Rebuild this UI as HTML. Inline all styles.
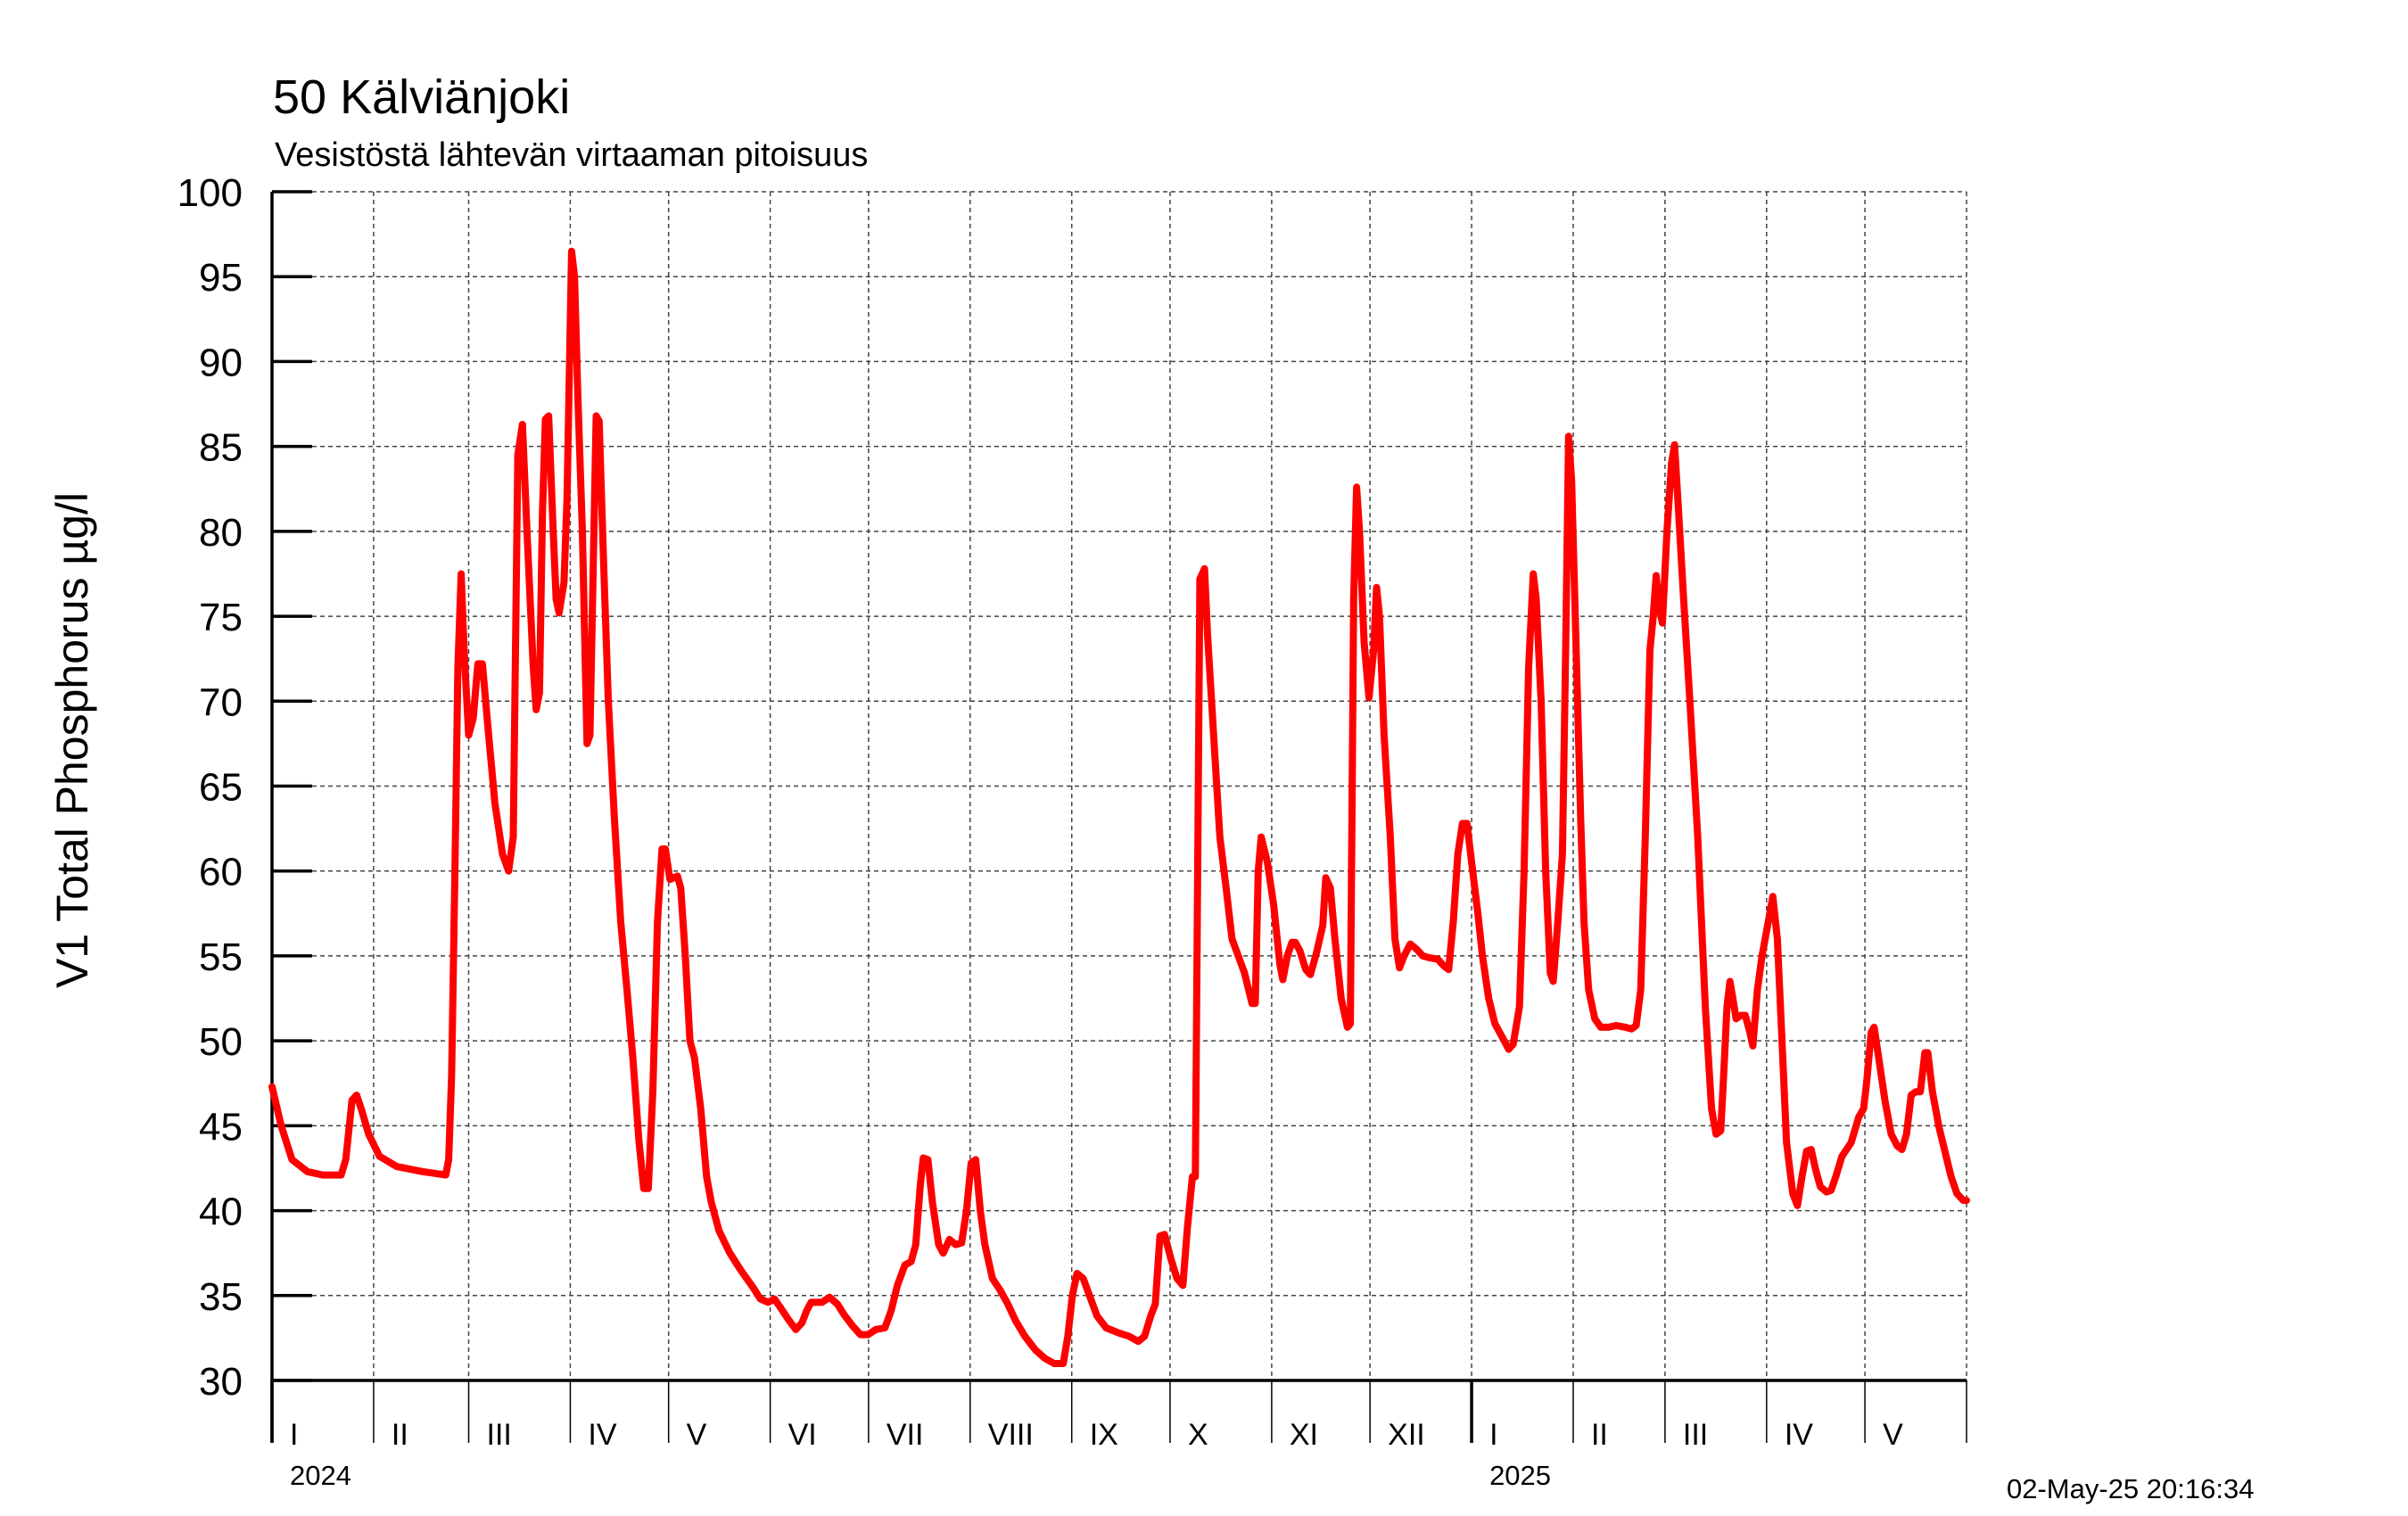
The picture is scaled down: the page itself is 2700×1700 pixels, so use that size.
<!DOCTYPE html>
<html><head><meta charset="utf-8">
<style>
html,body{margin:0;padding:0;background:#fff;}
svg{display:block;font-family:"Liberation Sans",sans-serif;}
</style></head>
<body>
<svg id="chart" width="2700" height="1700" viewBox="0 0 2700 1700" xmlns="http://www.w3.org/2000/svg">
<rect x="0" y="0" width="2700" height="1700" fill="#fff"/>
<text x="306" y="127" font-size="54" fill="#000">50 Kälviänjoki</text>
<text x="308" y="186" font-size="38" fill="#000">Vesistöstä lähtevän virtaaman pitoisuus</text>
<text transform="translate(98,830) rotate(-90)" text-anchor="middle" font-size="50" fill="#000">V1 Total Phosphorus µg/l</text>
<text x="2250" y="1680" font-size="31" fill="#000">02-May-25 20:16:34</text>
<g id="grid"></g>
<g id="axes"></g>
<g id="series"></g>
</svg>
<script>
const yTicks = [30,35,40,45,50,55,60,65,70,75,80,85,90,95,100];
const monthStarts = [0,31,60,91,121,152,182,213,244,274,305,335,366,397,425,456,486,517];
const monthLabels = ["I","II","III","IV","V","VI","VII","VIII","IX","X","XI","XII","I","II","III","IV","V"];
const yearLabels = ["2024","2025"];
const yearStarts = [0,366];
const days = [0,2.8,6.1,10.8,15.5,21.1,22.5,24.4,25.8,27.2,29.5,32.8,38,45.9,53,53.9,54.8,55.8,56.7,57.7,58.6,60,61.4,62.8,64.2,66.1,68,70.3,72.2,73.6,75,76.4,77.8,79.7,80.6,81.6,82.5,83.4,84.4,85.8,86.7,87.6,89.1,90,91.4,92.3,93.3,94.7,96.1,97,98,98.9,99.8,101.2,102.6,104.5,106.4,108.3,110.1,112,113.4,114.8,116.2,117.6,119,120,121.4,123.7,124.7,126.1,127.5,128.9,130.8,132.6,134,136.4,139.7,143,146.7,149,151.4,153.3,155.1,157.5,159.8,161.7,163.1,164.5,167.8,170.1,172.5,174.8,177.2,179.5,181.9,184.2,187,188.9,190.8,193.1,195,196.4,197.8,198.7,200.1,201.5,203.4,204.8,206.7,208.6,210.4,211.9,213.3,214.7,216.1,217.5,219.8,222.2,224.5,226.9,229.7,232.9,235.8,238.6,241.4,242.8,244.2,245.6,247.5,249.4,251.7,254.5,258.3,261.5,264.3,266.2,268.1,269.5,270.9,272.3,274.2,276.1,277.9,279.3,280.8,281.7,283.1,284.5,285.4,287.3,289.2,291.1,292.9,294.8,296.7,299,300,300.9,301.8,303.7,305.6,307.5,308.4,309.8,311.2,312.2,313.6,315.4,316.8,318.7,320.6,321.5,322.9,324.3,326.2,328.1,329,330,330.9,331.8,333.2,334.7,336.1,337,337.9,339.3,341.2,342.6,344,345.4,347.3,349.2,351.1,352.9,355.7,357.6,359,360.4,361.8,363.2,364.6,366,367.9,369.3,371.2,373.1,375.4,377.3,378.7,380.6,382,383.4,384.8,385.7,387.2,388.6,390,390.9,392.3,393.7,394.7,395.6,396.5,397.9,399.3,400.3,401.7,403.6,405.4,407.8,410.1,412.9,414.8,416.2,417.6,419,420.4,421.4,422.3,423.2,424.2,425.6,427,427.9,428.9,430.7,432.6,435,437.3,439.2,440.6,442,442.9,443.9,444.8,445.7,446.7,448.1,449.5,450.9,451.8,453.2,454.6,456.5,457.9,459.3,460.7,462.1,464,465.4,466.8,468.2,469.6,471,472.4,474.3,475.7,477.1,479,481.8,484.1,485.6,486.5,487.9,488.8,490.2,492.1,494,495.9,497.3,498.7,500.1,501.5,502.9,504.3,505.2,506.6,508.5,510.4,512.3,514.1,516,517];
const values = [47.3,45,43,42.3,42.1,42.1,43,46.5,46.8,46,44.5,43.2,42.6,42.3,42.1,43,48,60,72,77.5,73,68,69,72.2,72.2,68,64,61,60,62,84.5,86.3,80,72,69.5,70.5,81,86.6,86.8,80,76,75.2,77,82,96.5,95,88,80,67.5,68,78,86.8,86.5,78,70,63,57,53,49,44,41.3,41.3,47,57,61.3,61.3,59.5,59.7,59,55,50,49,46,42,40.5,38.8,37.5,36.5,35.5,34.8,34.6,34.8,34.3,33.6,33,33.4,34.1,34.6,34.6,34.9,34.5,33.8,33.2,32.7,32.7,33,33.1,34.1,35.6,36.8,37,38,41.5,43.1,43,40.5,38,37.5,38.3,38,38.1,40,42.8,43,40,38,36,35.3,34.5,33.5,32.6,31.8,31.3,31,31,32.6,35,36.3,36,35,33.8,33.1,32.8,32.6,32.3,32.6,33.8,34.5,38.5,38.6,37.2,36,35.6,39,42,42,77.2,77.8,74,68,62,59,56,55,54,52.2,52.2,60,62,60.5,58,54.5,53.6,55,55.8,55.8,55.3,54.2,53.9,55.2,56.8,59.6,59,56,52.5,50.8,51,76,82.6,80,73.5,70.2,73,76.7,75,68,62,56,54.3,55,55.7,55.4,55,54.9,54.8,54.4,54.2,57,61,62.8,62.8,60.5,57.5,55,52.5,51,50.2,49.5,49.8,52,60,72,77.5,76,70,60,54,53.5,57,61,73,85.6,83,73,63,57,53,51.3,50.8,50.8,50.9,50.8,50.7,50.9,53,62,73,75,77.4,75.5,74.6,80,84,85.1,82,76,70,62,52,46,44.5,44.7,48,52,53.5,52.5,51.3,51.5,51.5,50.5,49.7,53,55,57,58.5,56,50,44,41,40.3,42,43.5,43.6,42.4,41.4,41.1,41.2,42,43.2,44,45.5,46,47.5,50.5,50.8,49,46.5,44.5,43.8,43.6,44.5,46.8,47,47,49.3,49.3,47,45,43.5,42,41,40.6,40.6];

const NS = "http://www.w3.org/2000/svg";
const X0 = 305, X1 = 2205, DMAX = 517;
const Y0 = 1548, Y1 = 215, VMIN = 30, VMAX = 100;
function xs(d){ return X0 + (d / DMAX) * (X1 - X0); }
function ys(v){ return Y0 - (v - VMIN) / (VMAX - VMIN) * (Y0 - Y1); }
function mk(tag, attrs, parent){
  const e = document.createElementNS(NS, tag);
  for (const k in attrs) e.setAttribute(k, attrs[k]);
  parent.appendChild(e);
  return e;
}
const grid = document.getElementById('grid');
const axes = document.getElementById('axes');
const series = document.getElementById('series');

yTicks.forEach(v => {
  const y = ys(v);
  if (v > VMIN) {
    const g = mk('line', {x1: X0, x2: X1, y1: y, y2: y, stroke: '#444', 'stroke-width': 1.5, 'stroke-dasharray': '5,4'}, grid);
    
    
  }
  const t = mk('line', {x1: X0, x2: X0 + 45, y1: y, y2: y, stroke: '#000', 'stroke-width': 3.5}, axes);
  
  
  const lb = mk('text', {x: 272, y: y + 16, 'text-anchor': 'end', 'font-size': 44, fill: '#000'}, axes);
  lb.textContent = String(v);
  
  
});

monthStarts.forEach((d, i) => {
  const x = xs(d);
  if (i > 0) {
    const g = mk('line', {x1: x, x2: x, y1: Y1, y2: Y0, stroke: '#444', 'stroke-width': 1.5, 'stroke-dasharray': '5,4'}, grid);
    
    
  }
  const thick = (d === 0 || d === 366);
  const t = mk('line', {x1: x, x2: x, y1: Y0, y2: 1618, stroke: '#000', 'stroke-width': thick ? 3.5 : 1.5}, axes);
  
  
  if (i < monthLabels.length) {
    const lb = mk('text', {x: x + 20, y: 1620, 'font-size': 34, fill: '#000'}, axes);
    lb.textContent = monthLabels[i];
    
    
  }
});
yearStarts.forEach((d, i) => {
  const lb = mk('text', {x: xs(d) + 20, y: 1665, 'font-size': 31, fill: '#000'}, axes);
  lb.textContent = yearLabels[i];
  
  
});
const ya = mk('line', {x1: X0, x2: X0, y1: Y1, y2: 1618, stroke: '#000', 'stroke-width': 3.5}, axes);


const xa = mk('line', {x1: X0, x2: X1, y1: Y0, y2: Y0, stroke: '#000', 'stroke-width': 3.5}, axes);



let dstr = '';
days.forEach((d, i) => { dstr += (i ? 'L' : 'M') + xs(d).toFixed(1) + ',' + ys(values[i]).toFixed(1); });
const p = mk('path', {d: dstr, fill: 'none', stroke: '#ff0000', 'stroke-width': 8, 'stroke-linejoin': 'round', 'stroke-linecap': 'round'}, series);


</script>
</body></html>
